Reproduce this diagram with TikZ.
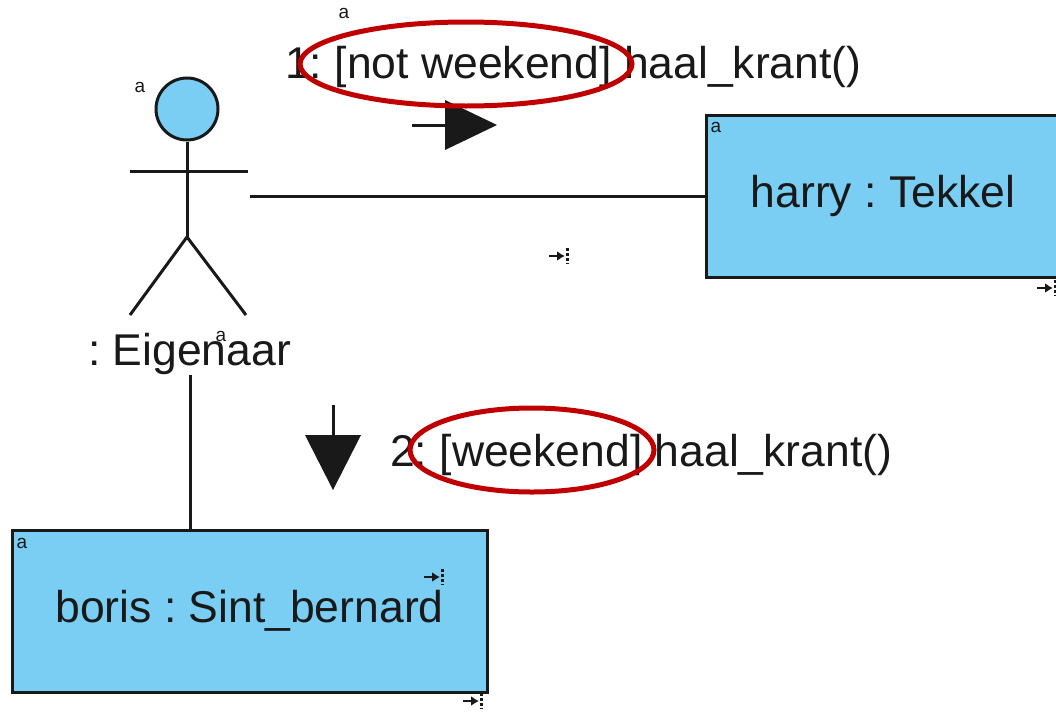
\documentclass[tikz,border=0pt]{standalone}
\usepackage{fontspec}
\setmainfont{Liberation Sans}
\usetikzlibrary{arrows.meta}
\definecolor{objblue}{RGB}{122,206,243}
\definecolor{markred}{RGB}{192,0,0}
\definecolor{ink}{RGB}{25,25,25}
\frenchspacing
\begin{document}
\begin{tikzpicture}[x=1pt,y=-1pt,
  lbl/.style={font=\fontsize{44.5}{50}\selectfont, inner sep=0pt, text=ink},
  tiny/.style={font=\fontsize{19}{21}\selectfont, inner sep=0pt, text=ink},
  obj/.style={draw=ink, line width=3pt, fill=objblue, inner sep=0pt, font=\fontsize{44.5}{50}\selectfont, text=ink},
  stick/.style={line width=3pt, draw=ink},
  conn/.style={line width=3pt, draw=ink},
  oval/.style={draw=markred, line width=5pt},
  sendmark/.pic={
    \draw[line width=2.6pt, ink, -{Latex[length=8pt,width=10pt]}] (-11,0) -- (5,0);
    \draw[line width=3pt, ink, dash pattern=on 3pt off 2pt] (7,-8) -- (7,8);
  }]
\useasboundingbox (0,0) rectangle (1056,712);

% actor
\node[circle, draw=ink, line width=3pt, fill=objblue, minimum size=62pt, inner sep=0pt] (head) at (187,109) {};
\coordinate (hip) at (187,237);
\coordinate (armL) at (130,171);
\coordinate (armR) at (248,171);
\coordinate (footL) at (130,315);
\coordinate (footR) at (246,315);
\draw[stick] (head.south) -- (hip);
\draw[stick] (armL) -- (armR);
\draw[stick] (footL) -- (hip) -- (footR);
\node[lbl, anchor=base west] (eig) at (88,365) {: Eigenaar};

% objects
\node[obj, minimum width=354pt, minimum height=162pt] (harry) at (883,196) {harry : Tekkel};
\node[obj, minimum width=475pt, minimum height=162pt] (boris) at (249.5,611) {boris : Sint\_bernard};

% links
\coordinate (actR) at (250,196);
\draw[conn] (actR) -- (harry.west);
\coordinate (eigB) at (190,375);
\draw[conn] (eigB) -- (eigB |- boris.north);

% messages
\node[lbl, anchor=base west] (m1) at (285,78) {1: [not weekend] haal\_krant()};
\node[lbl, anchor=base west] (m2) at (390,466) {2: [weekend] haal\_krant()};

\coordinate (a1s) at (412,125);
\coordinate (a1t) at (497,125);
\draw[conn] (a1s) -- (450,125);
\fill[ink] (445,100) -- (a1t) -- (445,150) -- cycle;
\coordinate (a2s) at (333,405);
\coordinate (a2t) at (333,490);
\draw[conn] (a2s) -- (333,440);
\fill[ink] (305,435) -- (a2t) -- (361,435) -- cycle;

% red highlight ovals
\draw[oval] (466,64) ellipse [x radius=166, y radius=42];
\draw[oval] (532,450) ellipse [x radius=122, y radius=42];

% small markers
\node[tiny] (t1) at (140,87) {a};
\node[tiny] (t2) at (344,13) {a};
\node[tiny] (t3) at (221,336) {a};
\node[tiny] (t4) at (716,127) {a};
\node[tiny] (t5) at (22,543) {a};
\pic at (560,256) {sendmark};
\pic at (1048,288) {sendmark};
\pic at (435,577) {sendmark};
\pic at (474,701) {sendmark};
\end{tikzpicture}
\end{document}
